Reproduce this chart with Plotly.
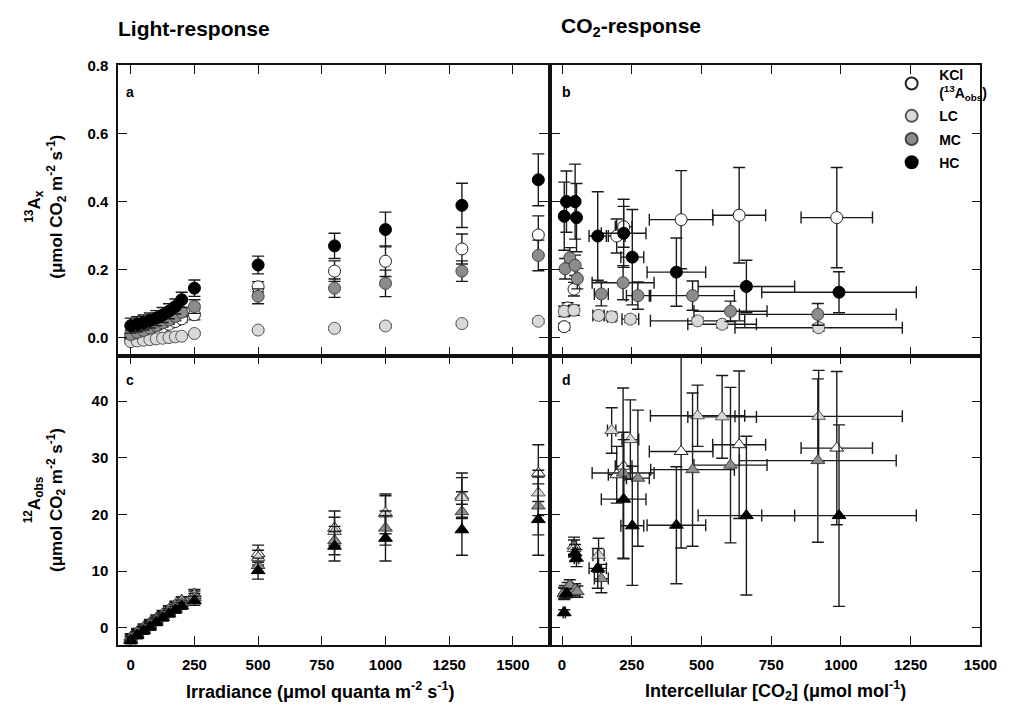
import plotly.graph_objects as go

# ---------------- data ----------------
irr = [0, 25, 50, 75, 100, 125, 150, 175, 200, 250, 500, 800, 1000, 1300, 1600]

# panel a: 13Ax vs irradiance
kcl_a = [0.000, 0.006, 0.012, 0.018, 0.025, 0.032, 0.040, 0.048, 0.056, 0.068, 0.150, 0.196, 0.225, 0.261, 0.302]
lc_a = [-0.011, -0.009, -0.007, -0.005, -0.003, -0.001, 0.001, 0.003, 0.005, 0.013, 0.023, 0.028, 0.035, 0.042, 0.049]
mc_a = [0.010, 0.016, 0.022, 0.029, 0.036, 0.044, 0.053, 0.063, 0.075, 0.092, 0.122, 0.146, 0.160, 0.196, 0.242]
hc_a = [0.036, 0.040, 0.045, 0.051, 0.058, 0.067, 0.078, 0.092, 0.112, 0.146, 0.214, 0.270, 0.318, 0.389, 0.464]
kcl_a_err = [0.010, 0.010, 0.010, 0.010, 0.010, 0.010, 0.010, 0.010, 0.010, 0.015, 0.015, 0.030, 0.045, 0.044, 0.056]
lc_a_err = [0.004, 0.004, 0.004, 0.004, 0.004, 0.004, 0.004, 0.004, 0.004, 0.005, 0.005, 0.005, 0.005, 0.006, 0.006]
mc_a_err = [0.012, 0.012, 0.012, 0.012, 0.012, 0.012, 0.012, 0.012, 0.012, 0.020, 0.022, 0.027, 0.039, 0.030, 0.045]
hc_a_err = [0.022, 0.022, 0.022, 0.022, 0.022, 0.022, 0.022, 0.022, 0.022, 0.024, 0.026, 0.037, 0.051, 0.065, 0.076]

# panel c: 12Aobs vs irradiance
kcl_c = [-1.6, -0.7, 0.1, 0.9, 1.7, 2.5, 3.3, 4.1, 4.9, 6.0, 13.1, 17.6, 20.1, 23.3, 27.3]
lc_c = [-1.8, -0.9, -0.1, 0.7, 1.5, 2.3, 3.1, 3.9, 4.7, 5.7, 12.4, 17.0, 20.3, 23.0, 23.8]
mc_c = [-2.0, -1.1, -0.3, 0.5, 1.3, 2.1, 2.8, 3.6, 4.3, 5.3, 11.0, 15.4, 17.6, 20.5, 21.5]
hc_c = [-2.2, -1.3, -0.5, 0.2, 1.0, 1.8, 2.5, 3.2, 3.9, 4.8, 10.1, 14.4, 15.8, 17.3, 19.1]
kcl_c_err = [0.6, 0.6, 0.6, 0.6, 0.6, 0.6, 0.6, 0.6, 0.6, 0.8, 1.5, 3.0, 3.5, 4.0, 5.0]
lc_c_err = [0.6, 0.6, 0.6, 0.6, 0.6, 0.6, 0.6, 0.6, 0.6, 0.8, 1.3, 2.5, 3.0, 3.5, 4.0]
mc_c_err = [0.6, 0.6, 0.6, 0.6, 0.6, 0.6, 0.6, 0.6, 0.6, 0.8, 1.3, 2.5, 3.0, 3.5, 5.1]
hc_c_err = [0.6, 0.6, 0.6, 0.6, 0.6, 0.6, 0.6, 0.6, 0.6, 0.8, 1.5, 2.6, 4.0, 4.5, 6.3]

# panels b & d: vs intercellular CO2
ci_kcl = [8, 20, 43, 196, 221, 427, 635, 985]
ci_kcl_err = [4, 5, 8, 30, 30, 114, 95, 128]
kcl_b = [0.033, 0.088, 0.143, 0.299, 0.326, 0.347, 0.360, 0.353]
kcl_b_err = [0.010, 0.015, 0.020, 0.050, 0.060, 0.144, 0.140, 0.147]
kcl_d = [6.0, 7.0, 14.5, 27.0, 28.5, 31.1, 32.3, 31.7]
kcl_d_err = [1.0, 1.0, 1.5, 5.0, 6.0, 17.0, 13.0, 13.5]

ci_lc = [8, 43, 131, 178, 245, 486, 574, 920]
ci_lc_err = [4, 8, 20, 15, 30, 169, 123, 300]
lc_b = [0.078, 0.081, 0.066, 0.062, 0.055, 0.050, 0.040, 0.030]
lc_b_err = [0.015, 0.015, 0.010, 0.010, 0.010, 0.010, 0.010, 0.010]
lc_d = [6.2, 14.0, 12.8, 34.8, 33.2, 37.4, 37.2, 37.3]
lc_d_err = [1.0, 1.5, 3.0, 4.0, 7.0, 5.4, 7.3, 8.1]

ci_mc = [11, 28, 47, 55, 141, 219, 272, 468, 604, 917]
ci_mc_err = [4, 6, 8, 8, 25, 111, 41, 150, 131, 281]
mc_b = [0.203, 0.235, 0.213, 0.174, 0.129, 0.162, 0.124, 0.124, 0.078, 0.069]
mc_b_err = [0.030, 0.030, 0.030, 0.030, 0.035, 0.050, 0.040, 0.043, 0.030, 0.032]
mc_d = [6.5, 7.5, 6.8, 6.4, 8.7, 27.3, 26.4, 27.9, 28.7, 29.5]
mc_d_err = [1.0, 1.0, 1.0, 1.0, 2.5, 15.0, 12.0, 13.5, 13.7, 14.4]

ci_hc = [8, 16, 47, 52, 128, 221, 252, 410, 661, 993]
ci_hc_err = [4, 6, 8, 8, 31, 80, 41, 105, 173, 277]
hc_b = [0.357, 0.400, 0.400, 0.353, 0.299, 0.307, 0.237, 0.193, 0.151, 0.134]
hc_b_err = [0.100, 0.090, 0.110, 0.100, 0.130, 0.100, 0.140, 0.100, 0.077, 0.060]
hc_d = [2.7, 6.1, 13.2, 12.3, 10.5, 22.7, 18.0, 18.1, 19.8, 19.8]
hc_d_err = [0.5, 0.8, 1.5, 1.5, 3.5, 10.5, 10.5, 10.3, 14.0, 16.0]

x_ticks = [0, 250, 500, 750, 1000, 1250, 1500]
y_top_ticks = [0.0, 0.2, 0.4, 0.6, 0.8]
y_bot_ticks = [0, 10, 20, 30, 40]

names = ["KCl<br>(<sup>13</sup>A<sub>obs</sub>)", "LC", "MC", "HC"]
fills = ["#ffffff", "#d9d9d9", "#8c8c8c", "#000000"]
edges = ["#222222", "#555555", "#444444", "#000000"]

FONT = "Liberation Sans, Arial, sans-serif"
ERRC = "#1a1a1a"

fig = go.Figure()

def add(x, y, yerr, xerr, i, symbol, xa, ya, legend):
    fig.add_trace(go.Scatter(
        x=x, y=y, mode="markers", name=names[i], legendgroup=names[i],
        showlegend=legend, xaxis=xa, yaxis=ya,
        marker=dict(symbol=symbol, size=12, color=fills[i],
                    line=dict(color=edges[i], width=1)),
        error_y=dict(type="data", array=yerr, color=ERRC, thickness=1.4, width=6),
        error_x=(dict(type="data", array=xerr, color=ERRC, thickness=1.4, width=6)
                 if xerr is not None else None),
    ))

series_a = [(kcl_a, kcl_a_err), (lc_a, lc_a_err), (mc_a, mc_a_err), (hc_a, hc_a_err)]
series_c = [(kcl_c, kcl_c_err), (lc_c, lc_c_err), (mc_c, mc_c_err), (hc_c, hc_c_err)]
series_bd = [
    (ci_kcl, ci_kcl_err, kcl_b, kcl_b_err, kcl_d, kcl_d_err),
    (ci_lc, ci_lc_err, lc_b, lc_b_err, lc_d, lc_d_err),
    (ci_mc, ci_mc_err, mc_b, mc_b_err, mc_d, mc_d_err),
    (ci_hc, ci_hc_err, hc_b, hc_b_err, hc_d, hc_d_err),
]

for i, (y, e) in enumerate(series_a):
    add(irr, y, e, None, i, "circle", "x", "y", False)
for i, (ci, cie, yb, ybe, yd, yde) in enumerate(series_bd):
    add(ci, yb, ybe, cie, i, "circle", "x2", "y2", True)
for i, (y, e) in enumerate(series_c):
    add(irr, y, e, None, i, "triangle-up", "x3", "y3", False)
for i, (ci, cie, yb, ybe, yd, yde) in enumerate(series_bd):
    add(ci, yd, yde, cie, i, "triangle-up", "x4", "y4", False)

L = [120 / 1024, 557 / 1024]
R = [561 / 1024, 997 / 1024]
TOP = [1 - 351 / 721, 1 - 57 / 721]
BOT = [1 - 644 / 721, 1 - 351 / 721]

base = dict(showline=True, linecolor="#111111", linewidth=1.5, mirror="ticks",
            ticks="inside", ticklen=9, tickwidth=1.2, tickcolor="#111111",
            showgrid=False, zeroline=False,
            tickfont=dict(family=FONT, size=15, color="black", weight="bold"))

fig.update_layout(
    width=1024, height=721, margin=dict(l=0, r=0, t=0, b=0),
    paper_bgcolor="white", plot_bgcolor="white",
    font=dict(family=FONT, color="black"),
    xaxis=dict(base, domain=L, range=[-50, 1637], anchor="y", tickvals=x_ticks, showticklabels=False),
    yaxis=dict(base, domain=TOP, range=[-0.052, 0.8], anchor="x", tickvals=y_top_ticks,
               tickformat=".1f", ticklabelstandoff=5),
    xaxis2=dict(base, domain=R, range=[-37, 1500], anchor="y2", tickvals=x_ticks, showticklabels=False),
    yaxis2=dict(base, domain=TOP, range=[-0.052, 0.8], anchor="x2", tickvals=y_top_ticks, showticklabels=False),
    xaxis3=dict(base, domain=L, range=[-50, 1637], anchor="y3", tickvals=x_ticks, ticklabelstandoff=5),
    yaxis3=dict(base, domain=BOT, range=[-3, 48], anchor="x3", tickvals=y_bot_ticks, ticklabelstandoff=5),
    xaxis4=dict(base, domain=R, range=[-37, 1500], anchor="y4", tickvals=x_ticks, ticklabelstandoff=5),
    yaxis4=dict(base, domain=BOT, range=[-3, 48], anchor="x4", tickvals=y_bot_ticks, showticklabels=False),
    legend=dict(x=0.878, y=0.93, xanchor="left", yanchor="top", bgcolor="rgba(0,0,0,0)",
                font=dict(family=FONT, size=14, color="black", weight="bold"),
                itemsizing="constant", itemwidth=45, tracegroupgap=2),
    showlegend=True,
)

def ann(text, x, y, size, angle=0, xanchor="left", yanchor="middle", bold=True):
    fig.add_annotation(text=text, x=x / 1024, y=1 - y / 721, xref="paper", yref="paper",
                       showarrow=False, textangle=angle, xanchor=xanchor, yanchor=yanchor,
                       font=dict(family=FONT, size=size, color="black",
                                 weight="bold" if bold else "normal"))

ann("Light-response", 118, 20, 21)
ann("CO<sub>2</sub>-response", 568, 18, 21)
ann("a", 126, 84, 14)
ann("b", 569, 84, 14)
ann("c", 126, 376, 14)
ann("d", 569, 376, 14)
ann("Irradiance (μmol quanta m<sup>-2</sup> s<sup>-1</sup>)", 325, 690, 18, xanchor="center")
ann("Intercellular [CO<sub>2</sub>] (μmol mol<sup>-1</sup>)", 789, 690, 18, xanchor="center")
ann("<sup>13</sup>A<sub>x</sub><br>(μmol CO<sub>2</sub> m<sup>-2</sup> s<sup>-1</sup>)", 46, 200, 17, angle=-90, xanchor="center")
ann("<sup>12</sup>A<sub>obs</sub><br>(μmol CO<sub>2</sub> m<sup>-2</sup> s<sup>-1</sup>)", 46, 497, 17, angle=-90, xanchor="center")

fig.write_html("out.html")
